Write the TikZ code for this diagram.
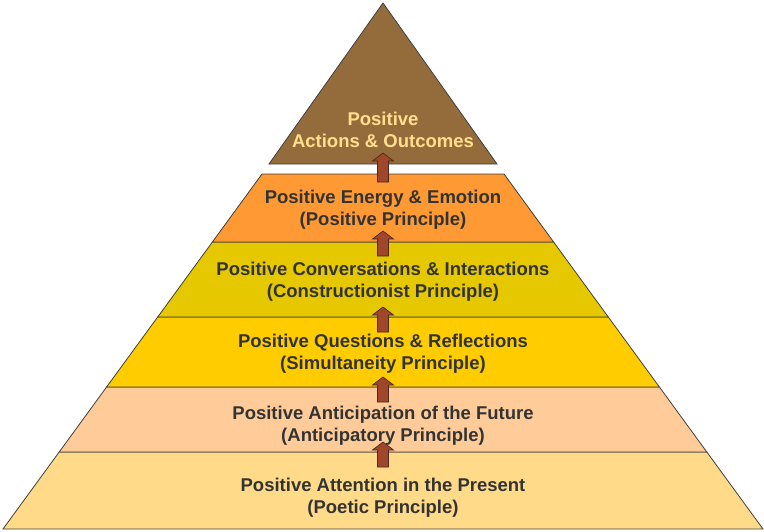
\documentclass[tikz,border=0pt]{standalone}
\usepackage{fontspec}
\setmainfont{Liberation Sans}
\definecolor{cTop}{HTML}{946C3B}
\definecolor{cTopTxt}{HTML}{FFDF8C}
\definecolor{cOrange}{HTML}{FF9933}
\definecolor{cOlive}{HTML}{E5C800}
\definecolor{cYellow}{HTML}{FFCC00}
\definecolor{cPeach}{HTML}{FFCC99}
\definecolor{cLight}{HTML}{FFDA88}
\definecolor{cTxt}{HTML}{333333}
\definecolor{cEdge}{HTML}{3F3F3F}
\definecolor{cArrow}{HTML}{A0472B}
\definecolor{cArrowEdge}{HTML}{4A2A1A}
\tikzset{
  layer/.style={draw=cEdge, line width=0.8pt, line join=miter},
  lbl/.style={font=\bfseries\fontsize{18.5}{22}\selectfont, text=cTxt, align=center, inner sep=0pt},
  uparrow/.style={fill=cArrow, draw=cArrowEdge, line width=0.7pt, line join=miter}
}
\newcommand\myuparr[2]{% tip y, bottom y
  \draw[uparrow] (377.5,#2) -- (377.5,#1+8) -- (372.5,#1+8) -- (383,#1) -- (393.5,#1+8) -- (388.5,#1+8) -- (388.5,#2) -- cycle;}
\begin{document}
\begin{tikzpicture}[x=1pt,y=-1pt]
\useasboundingbox (0,0) rectangle (764,531);
% layers
\draw[layer, fill=cLight]  (59.2,452) -- (706.8,452) -- (763,529) -- (3,529) -- cycle;
\draw[layer, fill=cPeach]  (106.6,387) -- (659.4,387) -- (706.8,452) -- (59.2,452) -- cycle;
\draw[layer, fill=cYellow] (157.7,317) -- (608.3,317) -- (659.4,387) -- (106.6,387) -- cycle;
\draw[layer, fill=cOlive]  (212.4,242) -- (553.6,242) -- (608.3,317) -- (157.7,317) -- cycle;
\draw[layer, fill=cOrange] (262,174) -- (504,174) -- (553.6,242) -- (212.4,242) -- cycle;
\draw[layer, fill=cTop]    (383,3) -- (497,164) -- (269,164) -- cycle;
% arrows
\myuparr{153}{182}
\myuparr{231}{256}
\myuparr{307}{332}
\myuparr{377}{402}
\myuparr{442}{467}
% labels
\node[lbl, text=cTopTxt] (top) at (383,129.5) {Positive\\Actions \& Outcomes};
\node[lbl] (energy) at (383,209.3) {Positive Energy \& Emotion\\(Positive Principle)};
\node[lbl] (conv) at (383,281.3) {Positive Conversations \& Interactions\\(Constructionist Principle)};
\node[lbl] (quest) at (383,353.3) {Positive Questions \& Reflections\\(Simultaneity Principle)};
\node[lbl] (antic) at (383,425.3) {Positive Anticipation of the Future\\(Anticipatory Principle)};
\node[lbl] (attn) at (383,497.3) {Positive Attention in the Present\\(Poetic Principle)};
\end{tikzpicture}
\end{document}
